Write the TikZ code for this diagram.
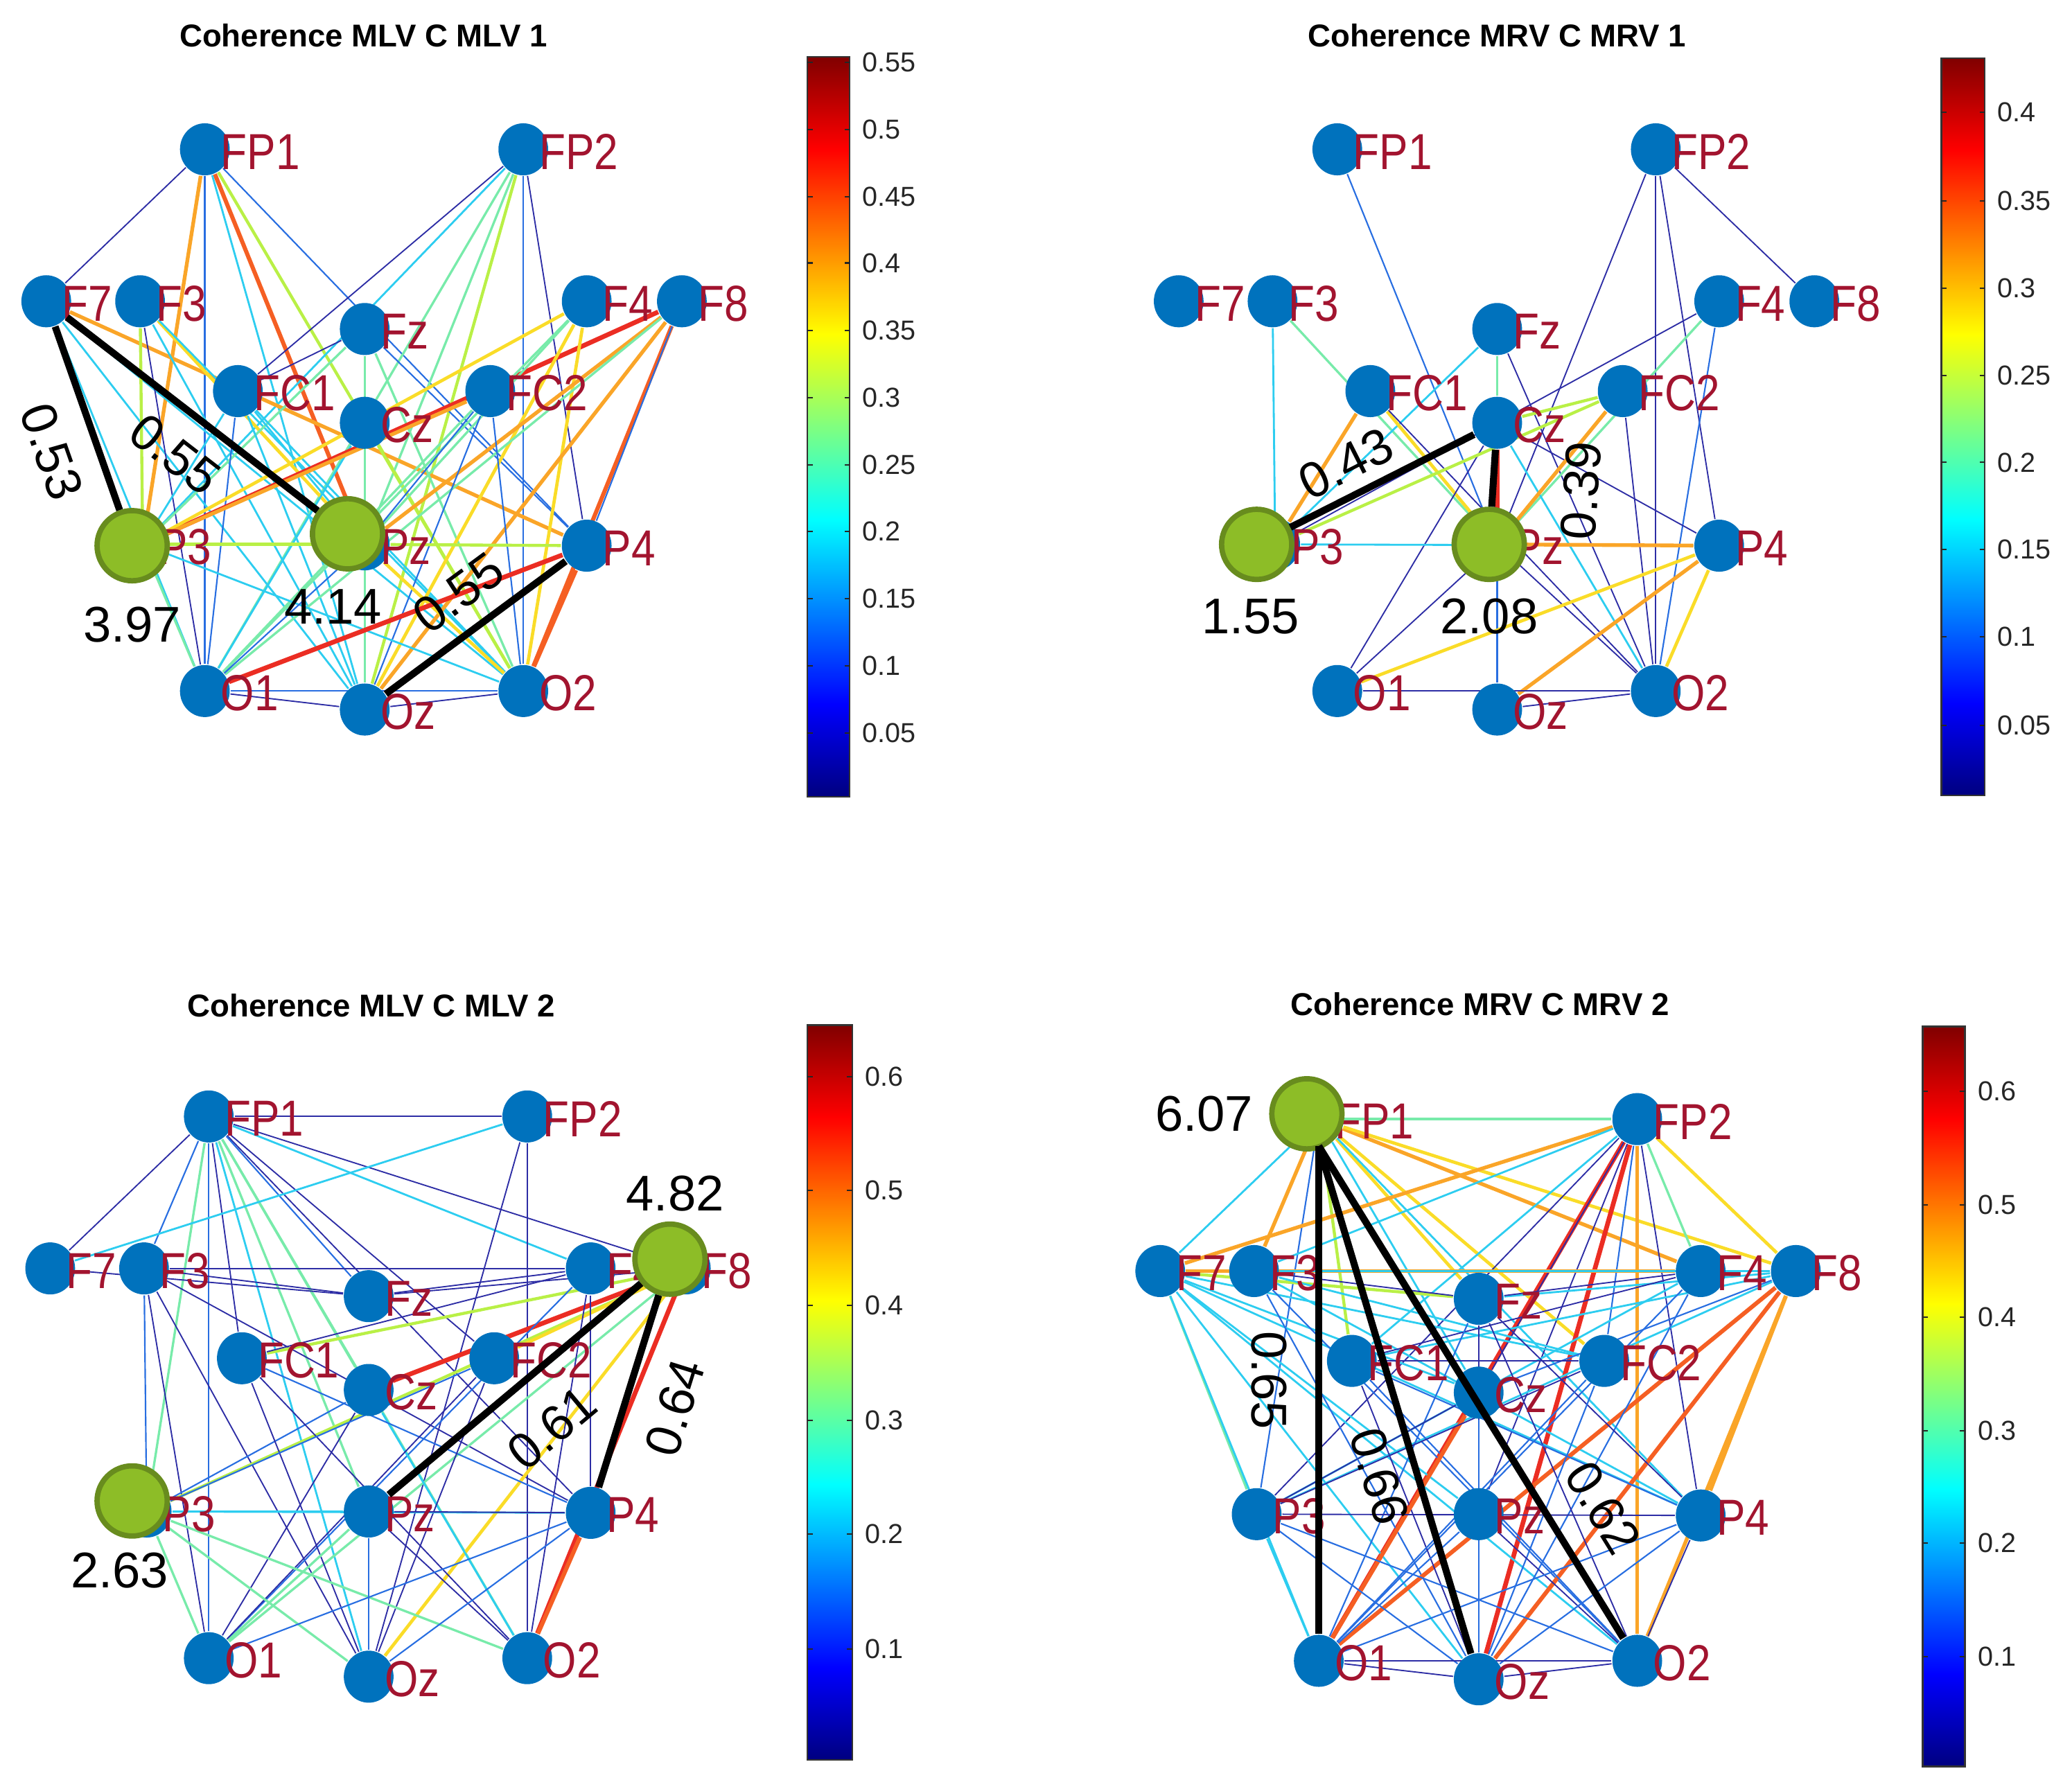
\documentclass[tikz,border=0pt]{standalone}
\usepackage{fontspec}
\setmainfont{Liberation Sans}
\newfontfamily\lblfont[FakeStretch=0.85]{Liberation Sans}
\usetikzlibrary{positioning,shapes.geometric,backgrounds}

\definecolor{nodeblue}{RGB}{0,114,189}
\definecolor{lblred}{RGB}{162,20,47}
\definecolor{hubfill}{RGB}{141,189,39}
\definecolor{hubline}{RGB}{104,140,30}
\definecolor{tickgray}{RGB}{38,38,38}
\definecolor{jet0}{RGB}{0,0,128}
\definecolor{jet1}{RGB}{0,0,255}
\definecolor{jet3}{RGB}{0,255,255}
\definecolor{jet5}{RGB}{255,255,0}
\definecolor{jet7}{RGB}{255,0,0}
\definecolor{jet8}{RGB}{128,0,0}
\definecolor{jA}{RGB}{45,45,165}
\definecolor{jB}{RGB}{40,110,225}
\definecolor{jC}{RGB}{45,205,240}
\definecolor{jD}{RGB}{120,235,170}
\definecolor{jE}{RGB}{185,240,70}
\definecolor{jF}{RGB}{250,220,40}
\definecolor{jG}{RGB}{250,165,40}
\definecolor{jH}{RGB}{245,95,35}
\definecolor{jI}{RGB}{235,45,35}

\pgfdeclareverticalshading{jetbar}{100bp}{color(0bp)=(jet0); color(25bp)=(jet0); color(31.25bp)=(jet1); color(43.75bp)=(jet3); color(56.25bp)=(jet5); color(68.75bp)=(jet7); color(75bp)=(jet8); color(100bp)=(jet8)}

\newcommand\valfont{\fontsize{10.8}{13}\selectfont}

% the 16 electrodes of one panel, shifted by (#2,#3)
\newcommand\eegnodes[3]{%
  \foreach \n/\x/\y in {FP1/155/113, FP2/396/113, F7/35/228, F3/106/228, F4/444/228, F8/516/228,
      Fz/276/249, FC1/180/296, FC2/371/296, Cz/276/320, P3/108/412, Pz/276/412, P4/444/413,
      O1/155/523, Oz/276/537, O2/396/523}
    \node[eeg, label={[nlab]0:\n}] (#1-\n) at (\x+#2,\y+#3) {};
}
\newcommand\eegedges[2]{%
  \begin{pgfonlayer}{background}
    \foreach \u/\v/\w in {#2}
      \draw[\w] (#1-\u) -- (#1-\v);
  \end{pgfonlayer}
}
\newcommand\jetbar[6]{%
  \shadedraw[shading=jetbar, draw=black!80, line width=0.4pt] (#1,#2) rectangle (#3,#4);
  \foreach \t/\ty [count=\k] in {#5} {
    \draw[cbtick] (#3,\ty) -- ++(-4,0);
    \draw[cbtick] (#1,\ty) -- ++(4,0);
    \node[cblab] (#6-t\k) at (#3+9,\ty) {\t};
  }
}

\begin{document}
\begin{tikzpicture}[x=0.01cm, y=-0.01cm,
    eeg/.style={ellipse, fill=nodeblue, inner sep=0pt, minimum width=10.7pt, minimum height=11.2pt},
    nlab/.style={text=lblred, font=\lblfont\fontsize{10.9}{12}\selectfont, inner sep=0pt, xshift=-2.3pt, yshift=-0.5pt},
    hub/.style={circle, fill=hubfill, draw=hubline, line width=1.15pt, minimum size=15.1pt, inner sep=0pt},
    topedge/.style={line width=1.5pt, black},
    wlab/.style={font=\valfont, inner sep=0pt, sloped, allow upside down},
    vlab/.style={font=\valfont, inner sep=0pt},
    ptitle/.style={font=\fontsize{6.8}{8}\selectfont\bfseries},
    cblab/.style={anchor=west, inner sep=0pt, text=tickgray, font=\fontsize{5.9}{7}\selectfont},
    cbtick/.style={draw=tickgray, line width=0.3pt},
    eA/.style={draw=jA, line width=0.28pt},
    eB/.style={draw=jB, line width=0.32pt},
    eC/.style={draw=jC, line width=0.42pt},
    eD/.style={draw=jD, line width=0.5pt},
    eE/.style={draw=jE, line width=0.65pt},
    eF/.style={draw=jF, line width=0.7pt},
    eG/.style={draw=jG, line width=0.8pt},
    eH/.style={draw=jH, line width=0.9pt},
    eI/.style={draw=jI, line width=1pt}]
\useasboundingbox (0,0) rectangle (1568,1347);

% titles
\node[ptitle] (a-title) at (275,27) {Coherence MLV C MLV 1};
\node[ptitle] (b-title) at (1133,27) {Coherence MRV C MRV 1};
\node[ptitle] (c-title) at (281,761) {Coherence MLV C MLV 2};
\node[ptitle] (d-title) at (1120,760) {Coherence MRV C MRV 2};

\eegnodes{a}{0}{0}
\eegnodes{b}{857}{0}
\eegnodes{c}{3}{732}
\eegnodes{d}{843}{734}

\eegedges{a}{FP1/F7/eA, FP1/P3/eG, FP1/O1/eB, FP1/Pz/eH, FP1/Oz/eC, FP1/O2/eE, FP1/P4/eB,
  FP2/FC1/eA, FP2/P3/eC, FP2/Pz/eD, FP2/Oz/eE, FP2/O2/eB, FP2/P4/eA, FP2/O1/eD,
  F7/P4/eG, F7/O1/eC, F7/Oz/eC, F7/O2/eC,
  F3/P3/eE, F3/Pz/eF, F3/O1/eA, F3/Oz/eC, F3/O2/eC,
  Fz/P3/eD, Fz/FC1/eA, Fz/Oz/eD, Fz/O2/eD, Fz/P4/eB,
  FC1/P3/eC, FC1/Pz/eC, FC1/O1/eB, FC1/Oz/eC, FC1/O2/eC,
  Cz/O2/eE, Cz/Oz/eD, Cz/O1/eC,
  P3/F8/eI, F4/P3/eF, F4/Oz/eF, F4/O2/eF, F4/Pz/eD, F4/O1/eD,
  F8/Pz/eG, F8/Oz/eG, F8/O2/eH, F8/P4/eB, F8/O1/eD,
  FC2/P3/eG, FC2/Pz/eB, FC2/O1/eD, FC2/O2/eB, FC2/Oz/eB,
  P3/Pz/eE, Pz/P4/eE, P3/O1/eD, P3/O2/eC, Pz/O1/eB, Pz/O2/eF, Pz/Oz/eD,
  P4/O1/eI, P4/O2/eH, O1/Oz/eA, O1/O2/eB, Oz/O2/eA}

\eegedges{b}{FP1/Pz/eB, FP2/Pz/eA, FP2/P4/eA, FP2/O2/eA, FP2/F8/eA,
  F3/P3/eC, F3/Pz/eD, Fz/P3/eC, Fz/Cz/eD, Fz/O2/eA,
  F4/P3/eA, F4/Pz/eD, F4/O2/eB,
  FC1/P3/eG, FC1/Pz/eF, FC1/O2/eA,
  Cz/Pz/eI, Cz/FC2/eE, Cz/O1/eA, Cz/O2/eC, Cz/P4/eA,
  FC2/Pz/eG, FC2/P3/eE, FC2/O2/eA,
  P3/P4/eC, Pz/P4/eG, Pz/O1/eA, Pz/Oz/eB, Pz/O2/eA,
  P4/O1/eF, P4/Oz/eG, P4/O2/eF,
  O1/O2/eA, Oz/O2/eA}

\eegedges{c}{FP1/FP2/eA, FP1/F7/eA, FP1/F3/eB, FP1/P3/eD, FP1/O1/eB, FP1/Oz/eC, FP1/Pz/eD, FP1/FC1/eA,
  FP1/Cz/eD, FP1/O2/eD, FP1/P4/eA, FP1/FC2/eA, FP1/Fz/eB, FP1/F8/eA, FP1/F4/eC,
  FP2/F7/eC, FP2/O2/eA, FP2/Oz/eA,
  F7/Fz/eA, F3/F4/eA, F3/Fz/eA, F3/P3/eB, F3/Oz/eA, F3/P4/eA, F3/O1/eA,
  F8/Cz/eI, F8/FC1/eE, F8/P3/eE, F8/Oz/eF, F8/O2/eI, F8/O1/eD, F8/Fz/eA, F8/FC2/eF,
  F4/FC1/eA, F4/Fz/eA, F4/O1/eB, F4/P4/eA, F4/O2/eA,
  Cz/P3/eB, Cz/O2/eC, Cz/O1/eA,
  FC1/Oz/eA, FC1/O2/eA, FC1/P4/eB,
  FC2/Oz/eA, FC2/O1/eA, FC2/P3/eB,
  P3/Pz/eC, P3/P4/eC, Pz/P4/eA, P3/O1/eD, P3/Oz/eD, P3/O2/eD,
  Pz/O2/eA, Pz/Oz/eB, Pz/O1/eD,
  P4/O1/eB, P4/Oz/eB, P4/O2/eH}

\eegedges{d}{FP1/FP2/eD, FP1/F7/eC, FP1/F3/eG, FP1/F4/eG, FP1/F8/eF, FP1/FC2/eF, FP1/Fz/eF, FP1/FC1/eE,
  FP1/P3/eB, FP1/Cz/eC, FP1/P4/eC,
  FP2/F7/eG, FP2/F3/eC, FP2/F8/eF, FP2/F4/eD, FP2/O1/eI, FP2/Oz/eI, FP2/O2/eG, FP2/Pz/eA,
  FP2/P3/eA, FP2/Cz/eA, FP2/FC1/eC, FP2/P4/eA, FP2/FC2/eB,
  F7/F4/eG, F7/P3/eD, F7/O1/eC, F7/Oz/eC, F7/O2/eC, F7/FC2/eC, F7/Pz/eC, F7/Cz/eC, F7/P4/eC, F7/Fz/eE,
  F3/F8/eC, F3/Fz/eA, F3/P4/eC, F3/O2/eB, F3/Oz/eB, F3/FC2/eC,
  F8/O1/eH, F8/Oz/eH, F8/P4/eG, F8/O2/eG, F8/P3/eC, F8/FC1/eC, F8/Fz/eC, F8/Cz/eB,
  F4/Fz/eA, F4/P3/eC, F4/FC1/eA, F4/O1/eB, F4/Oz/eB,
  Fz/O2/eA, Fz/O1/eB, Fz/Oz/eA, Fz/P4/eA,
  FC1/FC2/eA, FC1/O2/eB, FC1/Oz/eA, FC1/P4/eB,
  Cz/O1/eH, Cz/Oz/eB, Cz/P3/eA,
  FC2/O1/eB, FC2/P3/eA, FC2/Oz/eB,
  P3/P4/eA, P3/O1/eC, P3/O2/eB, P3/Oz/eB,
  Pz/O2/eA, Pz/Oz/eB, Pz/O1/eB,
  P4/O1/eB, P4/Oz/eB, P4/O2/eA,
  O1/Oz/eA, O1/O2/eA, Oz/O2/eA}

% hubs
\node[hub] (a-P3g) at (100,413) {};
\node[hub] (a-Pzg) at (263,404) {};
\node[hub] (b-P3g) at (951,412) {};
\node[hub] (b-Pzg) at (1127,412) {};
\node[hub] (c-F8g) at (507,953) {};
\node[hub] (c-P3g) at (100,1136) {};
\node[hub] (d-FP1g) at (989,843) {};

\node[vlab, below=4.8pt of a-P3g] (a-v1) {3.97};
\node[vlab, below=3.7pt of a-Pzg, xshift=-3.1pt] (a-v2) {4.14};
\node[vlab, below=3.4pt of b-P3g, xshift=-1.3pt] (b-v1) {1.55};
\node[vlab, below=3.4pt of b-Pzg] (b-v2) {2.08};
\node[vlab, above=2pt of c-F8g, xshift=1.1pt] (c-v1) {4.82};
\node[vlab, below=2.8pt of c-P3g, xshift=-2.7pt] (c-v2) {2.63};
\node[vlab, left=3.3pt of d-FP1g] (d-v1) {6.07};

% strongest links
\draw[topedge] (a-F7) -- node[wlab, pos=0.60, below=5pt] (a-w1) {0.53} (a-P3g);
\draw[topedge] (a-F7) -- node[wlab, pos=0.535, below=4.5pt] (a-w2) {0.55} (a-Pzg);
\draw[topedge] (a-Oz) -- node[wlab, pos=0.53, above=3.7pt] (a-w3) {0.55} (a-P4);
\draw[topedge] (b-P3g) -- node[wlab, pos=0.38, above=2.3pt] (b-w1) {0.43} (b-Cz);
\draw[topedge] (b-Pzg) -- node[wlab, pos=0.38, below=14.4pt] (b-w2) {0.39} (b-Cz);
\draw[topedge] (c-Pz) -- node[wlab, pos=0.51, below=6.9pt] (c-w1) {0.61} (c-F8g);
\draw[topedge] (c-P4) -- node[wlab, pos=0.49, below=5.9pt] (c-w2) {0.64} (c-F8g);
\draw[topedge] (d-FP1.south) -- node[wlab, pos=0.48, below=6.1pt] (d-w1) {0.65} (d-O1);
\draw[topedge] (d-FP1.south) -- node[wlab, pos=0.63, below=3.4pt] (d-w2) {0.66} (d-Oz);
\draw[topedge] (d-FP1.south) -- node[wlab, pos=0.79, above=6.5pt] (d-w3) {0.62} (d-O2);

% colour bars
\jetbar{611}{43}{643}{603}{0.55/47,0.5/98,0.45/149,0.4/199,0.35/250,0.3/301,0.25/352,0.2/402,0.15/453,0.1/504,0.05/555}{a}
\jetbar{1469}{44}{1502}{602}{0.4/85,0.35/152,0.3/218,0.25/284,0.2/350,0.15/416,0.1/482,0.05/549}{b}
\jetbar{611}{776}{645}{1332}{0.6/815,0.5/901,0.4/988,0.3/1075,0.2/1161,0.1/1248}{c}
\jetbar{1455}{777}{1487}{1337}{0.6/826,0.5/912,0.4/997,0.3/1083,0.2/1168,0.1/1254}{d}
\end{tikzpicture}
\end{document}
